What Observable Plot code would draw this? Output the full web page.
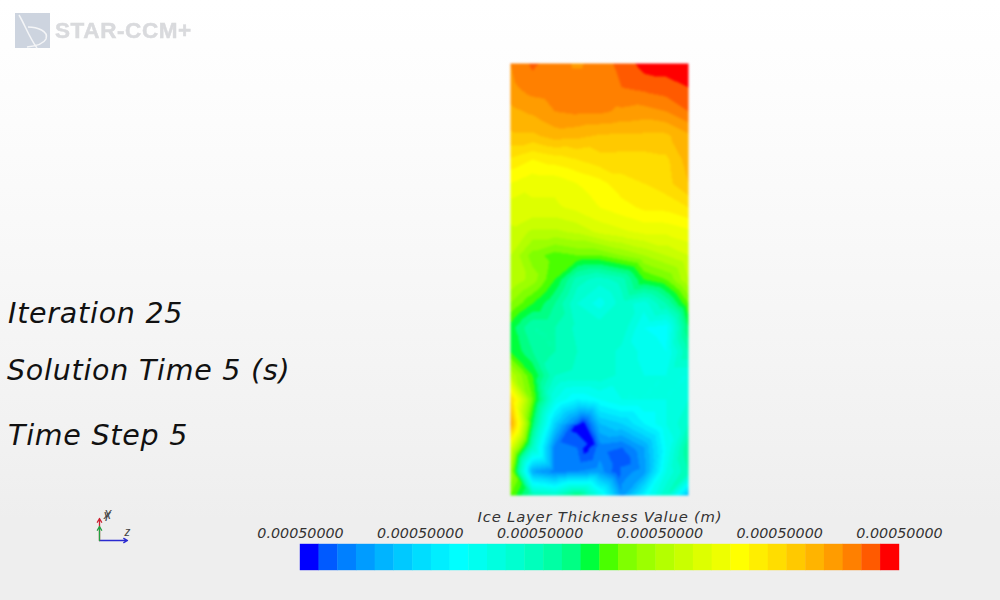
<!DOCTYPE html>
<html>
<head>
<meta charset="utf-8">
<script src="https://cdn.jsdelivr.net/npm/d3@7"></script>
<script src="https://cdn.jsdelivr.net/npm/@observablehq/plot@0.6"></script>
<style>
html,body{margin:0;padding:0;width:1000px;height:600px;overflow:hidden}
body{position:relative;background:linear-gradient(#ffffff 0,#fdfdfd 90px,#f8f8f8 250px,#f1f1f1 450px,#eeeeee 520px,#eeeeee 600px);font-family:"DejaVu Sans",sans-serif}
.abs{position:absolute}
.info{position:absolute;font-family:"DejaVu Sans",sans-serif;font-style:italic;color:#111;font-size:28.5px;letter-spacing:.75px;white-space:nowrap;line-height:34px}
svg{background:transparent!important;overflow:visible}
#field image{filter:blur(.8px)}
#bar rect{filter:blur(.4px)}
#logo-text{position:absolute;left:55px;top:18px;font:bold 22.5px "Liberation Sans",sans-serif;color:#d9dadd;letter-spacing:.6px;filter:blur(.5px);-webkit-text-stroke:.5px #d9dadd}
</style>
</head>
<body>
<div class="abs" id="logo" style="left:15px;top:13px;width:35px;height:35px;background:#cdd4df;filter:blur(.4px)">
<svg width="35" height="35" viewBox="0 0 35 35"><path d="M4 2 C10 12 14 24 22 35 M13 14 C22 14 34 18 31 26 C29 30 22 33 12 34" fill="none" stroke="#f4f5f7" stroke-width="1.5"/></svg>
</div>
<div id="logo-text">STAR-CCM+</div>
<div class="info" style="left:8px;top:297px">Iteration 25</div>
<div class="info" style="left:7px;top:354px">Solution Time 5 (s)</div>
<div class="info" style="left:8px;top:419px">Time Step 5</div>
<div class="abs" id="field" style="left:0;top:0"></div>
<div class="abs" id="bar" style="left:0;top:505px"></div>
<div class="abs" id="triad" style="left:85px;top:500px"></div>
<script>
// Colour bands of the legend, low to high
const bandColors = ["#0000ff","#005aff","#0080ff","#009cff","#00b4ff","#00c9ff","#00ddff","#00eeff","#00ffff","#00fff0","#00ffe0","#00ffd0","#00ffbc","#00ffa4","#00ff84","#00ff3c","#4aff00","#80ff00","#9cff00","#b4ff00","#c9ff00","#ddff00","#eeff00","#ffff00","#ffee00","#ffdd00","#ffc900","#ffb400","#ff9c00","#ff8000","#ff5a00","#ff0000"];
const bandEdges = [0,1,2,3,4,5,6,7,8,9,10,11,12,13,14,15,16,17,18,19,20,21,22,23,24,25,26,27,28,29,30,31];
const tickValues = [0,6.4,12.8,19.2,25.6,32];
const tickLabels = ["0.00050000","0.00050000","0.00050000","0.00050000","0.00050000","0.00050000"];
const barTitle = "Ice Layer Thickness Value (m)";

// Sampled field (band units), rows top to bottom, nine stations across
const fieldRows = [
 [29,30.2,29.5,28.8,29.5,30.3,31.5,31.5,31.5],
 [28.7,29.5,29.7,29.7,29.7,30,30.3,30.6,31],
 [27.7,28.2,29,29.2,29.2,28.8,28.6,29,30],
 [26.8,26.8,27.5,27.3,26.9,26.8,26.8,26.8,27.8],
 [24.8,24,24.5,25,25.6,25.6,25.6,25.8,27.5],
 [23,22.3,22.3,23,23.6,24.6,25,25.6,27],
 [21.5,21.8,21.8,22.3,23,23.6,24.2,24.3,25],
 [20.8,19.8,19.8,20.3,21.3,21.8,22.3,22.3,22.8],
 [20,17.5,16.5,17,17,18,19,20,21],
 [20,18.5,16,12.5,11.5,12.5,16,17,20],
 [18,16,14,11,9.5,11.5,10.5,13,17],
 [15.5,13,13,11.7,11.7,11.7,9,8.5,15],
 [16,14,13,12,11.7,10.7,9.7,9,13],
 [20,16,12,11.7,11.7,10.7,10,10,10],
 [26,17,10,8,9,10,10,10,11],
 [28.5,15,6,2,5,6,8,10,12],
 [22,12,2.5,2,2.5,2,4,9,14],
 [19,4,2.5,3,3.5,2.5,3.5,10,13],
 [17,13,12,15,10,3.5,8,12,5]
];
// Extra samples of the darkest pockets: station, row, value
const pocketX = [2.97,3.28,3.69,3.37,4.9,4.85,5.1];
const pocketY = [15.1,15.0,15.8,16.05,16.5,17.0,16.5];
const pocketV = [0.5,0.5,0.5,0.5,1.2,1.2,1.2];

const pts = [];
fieldRows.forEach((row, r) => row.forEach((v, c) => pts.push({x: c, y: r, v})));
pocketX.forEach((x, i) => pts.push({x, y: pocketY[i], v: pocketV[i]}));

document.getElementById("field").append(Plot.plot({
  width: 1000, height: 600,
  marginLeft: 510, marginRight: 312, marginTop: 63, marginBottom: 105,
  x: {domain: [0, 8], axis: null},
  y: {domain: [0, 18], reverse: true, axis: null},
  color: {type: "threshold", domain: bandEdges.slice(1), range: bandColors},
  marks: [
    Plot.raster(pts, {x: "x", y: "y", fill: "v", x1: 0, x2: 8, y1: 0, y2: 18, interpolate: "barycentric", pixelSize: 1})
  ]
}));

const barPlot = Plot.plot({
  width: 1000, height: 65,
  marginLeft: 300, marginRight: 101, marginTop: 39, marginBottom: 0,
  style: {fontFamily: "DejaVu Sans", fontStyle: "italic", fontSize: "14.3px", color: "#333"},
  x: {domain: [0, 32], axis: null},
  y: {domain: [0, 1], axis: null},
  marks: [
    Plot.rectY(bandEdges, {x1: d => d, x2: d => d + 1, y1: 0, y2: 1, fill: d => bandColors[d], inset: -0.2}),
    Plot.axisX({anchor: "top", ticks: tickValues, tickSize: 0, tickPadding: 7, tickFormat: (d, i) => tickLabels[i], fontSize: 14.3, label: null}),
    Plot.text([barTitle], {frameAnchor: "top", dy: -33, fill: "#333", fontSize: 14.8, fontStyle: "italic"})
  ]
});
document.getElementById("bar").append(barPlot);
barPlot.querySelectorAll("text").forEach(t => { if (t.textContent === barTitle) t.style.letterSpacing = "0.8px"; });

// Orientation triad
const arrows = [
  {x1: 0, y1: 0, x2: 28, y2: 0, c: "#2a2ad0"},
  {x1: 0, y1: 0, x2: 0, y2: 22, c: "#cc2030"},
  {x1: 0, y1: 0, x2: 0, y2: 14, c: "#20a040"}
];
const axisNames = [{x: 8, y: 26, t: "X"}, {x: 7, y: 24, t: "Y"}, {x: 28, y: 9, t: "z"}];
document.getElementById("triad").append(Plot.plot({
  width: 60, height: 50, marginLeft: 14, marginRight: 18, marginTop: 10, marginBottom: 10,
  x: {domain: [0, 28], axis: null},
  y: {domain: [0, 30], axis: null},
  marks: [
    Plot.arrow(arrows, {x1: "x1", y1: "y1", x2: "x2", y2: "y2", stroke: "c", strokeWidth: 1.3, headLength: 5, bend: 0}),
    Plot.text(axisNames, {x: "x", y: "y", text: "t", fontSize: 13, fill: "#444", fontStyle: "italic"})
  ]
}));
</script>
</body>
</html>
